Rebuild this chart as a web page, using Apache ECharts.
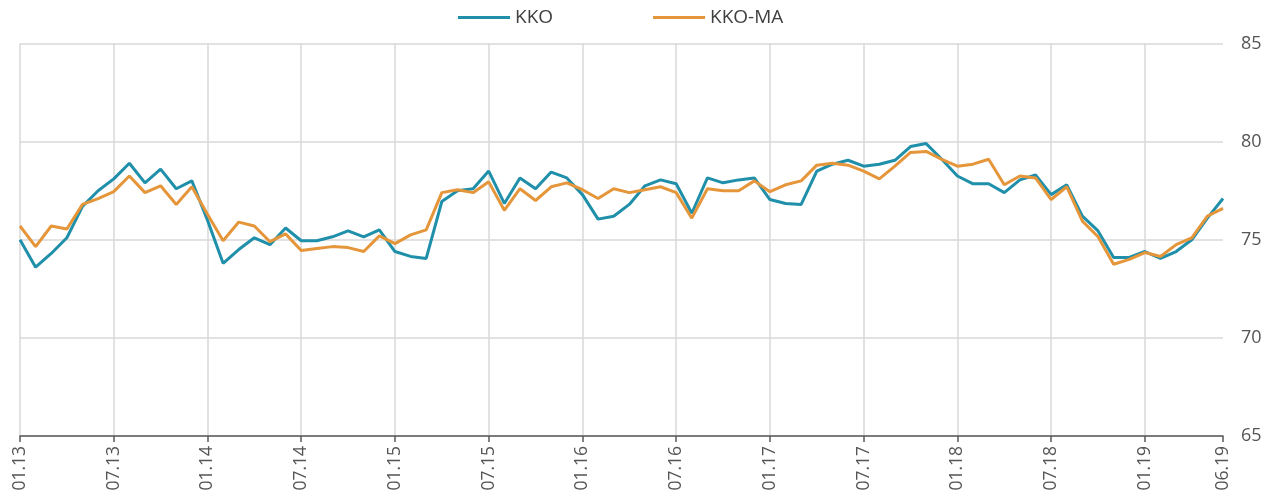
<!DOCTYPE html>
<html>
<head>
<meta charset="utf-8">
<script src="https://cdn.jsdelivr.net/npm/echarts@6/dist/echarts.min.js"></script>
<style>
html,body{margin:0;padding:0;background:#fff;}
#chart{width:1270px;height:501px;}
</style>
</head>
<body>
<div id="chart"></div>
<script>
const categories = [
 '01.13','02.13','03.13','04.13','05.13','06.13','07.13','08.13','09.13','10.13','11.13','12.13',
 '01.14','02.14','03.14','04.14','05.14','06.14','07.14','08.14','09.14','10.14','11.14','12.14',
 '01.15','02.15','03.15','04.15','05.15','06.15','07.15','08.15','09.15','10.15','11.15','12.15',
 '01.16','02.16','03.16','04.16','05.16','06.16','07.16','08.16','09.16','10.16','11.16','12.16',
 '01.17','02.17','03.17','04.17','05.17','06.17','07.17','08.17','09.17','10.17','11.17','12.17',
 '01.18','02.18','03.18','04.18','05.18','06.18','07.18','08.18','09.18','10.18','11.18','12.18',
 '01.19','02.19','03.19','04.19','05.19','06.19'
];
const kko = [
 75.0,73.6,74.3,75.1,76.7,77.5,78.1,78.9,77.9,78.6,77.6,78.0,
 76.0,73.8,74.5,75.1,74.75,75.6,74.95,74.95,75.15,75.45,75.15,75.5,
 74.4,74.15,74.05,76.95,77.5,77.6,78.5,76.85,78.15,77.6,78.45,78.15,
 77.3,76.05,76.2,76.8,77.75,78.05,77.85,76.35,78.15,77.9,78.05,78.15,
 77.05,76.85,76.8,78.5,78.85,79.05,78.75,78.85,79.05,79.75,79.9,79.1,
 78.25,77.85,77.85,77.4,78.05,78.3,77.3,77.8,76.2,75.45,74.1,74.1,
 74.4,74.05,74.4,75.0,76.1,77.1
];
const kkoMa = [
 75.7,74.65,75.7,75.55,76.8,77.1,77.45,78.25,77.4,77.75,76.8,77.7,
 76.3,74.95,75.9,75.7,74.9,75.3,74.45,74.55,74.65,74.6,74.4,75.2,
 74.8,75.25,75.5,77.4,77.55,77.4,77.95,76.5,77.6,77.0,77.7,77.9,
 77.55,77.1,77.6,77.4,77.55,77.7,77.4,76.1,77.6,77.5,77.5,78.0,
 77.45,77.8,78.0,78.8,78.9,78.8,78.5,78.1,78.75,79.45,79.5,79.1,
 78.75,78.85,79.1,77.8,78.25,78.15,77.05,77.7,75.95,75.15,73.75,74.0,
 74.35,74.15,74.75,75.1,76.2,76.6
];
const seriesNames = ['KKO', 'KKO-MA'];
const yTicks = [65, 70, 75, 80, 85];

const lastIdx = categories.length - 1;
const showIdx = (i) => i % 6 === 0 || i === lastIdx;
const font = '"Open Sans", "Noto Sans", sans-serif';

const chart = echarts.init(document.getElementById('chart'), null, {renderer: 'canvas'});
chart.setOption({
  animation: false,
  color: ['#1F8FAA', '#E5963A'],
  legend: {
    top: 3,
    left: 453,
    itemWidth: 52,
    itemHeight: 3,
    itemGap: 100,
    icon: 'rect',
    textStyle: {color: '#404040', fontSize: 19, fontFamily: font},
    data: seriesNames
  },
  grid: {left: 20, right: 47, top: 43.5, bottom: 65, containLabel: false},
  xAxis: {
    type: 'category',
    data: categories,
    boundaryGap: false,
    axisLine: {show: true, lineStyle: {color: '#595959', width: 1.5}},
    axisTick: {show: true, interval: (i) => showIdx(i), length: 6, lineStyle: {color: '#595959', width: 1.5}},
    axisLabel: {
      interval: (i) => showIdx(i),
      rotate: 90,
      margin: 10,
      color: '#555555',
      fontSize: 17.5,
      fontFamily: font
    },
    splitLine: {show: true, interval: (i) => showIdx(i) && i !== lastIdx, lineStyle: {color: '#d9d9d9', width: 1.5}}
  },
  yAxis: {
    type: 'value',
    position: 'right',
    min: yTicks[0],
    max: yTicks[yTicks.length - 1],
    interval: 5,
    axisLine: {show: false},
    axisTick: {show: false},
    axisLabel: {color: '#555555', fontSize: 18, fontFamily: font, margin: 18},
    splitLine: {show: true, lineStyle: {color: '#d9d9d9', width: 1.5}}
  },
  series: [
    {name: seriesNames[0], type: 'line', data: kko, showSymbol: false, symbol: 'none', lineStyle: {width: 3}, z: 2},
    {name: seriesNames[1], type: 'line', data: kkoMa, showSymbol: false, symbol: 'none', lineStyle: {width: 3}, z: 3}
  ]
});
</script>
</body>
</html>
